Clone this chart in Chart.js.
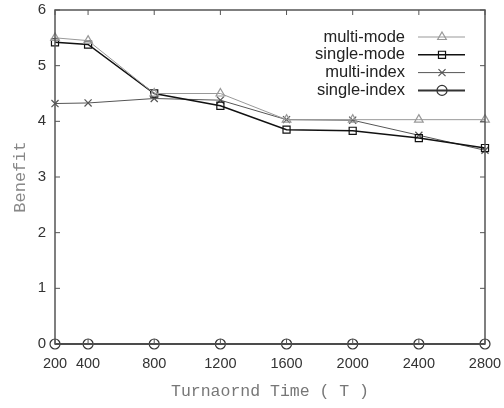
<!DOCTYPE html>
<html>
<head>
<meta charset="utf-8">
<script src="https://cdn.jsdelivr.net/npm/chart.js@4"></script>
<style>
  html, body { margin: 0; padding: 0; background: #fff; }
  #wrap { width: 504px; height: 408px; }
</style>
</head>
<body>
<div id="wrap"><canvas id="benefitChart" width="504" height="408"></canvas></div>
<script>
const turnaround = [200, 400, 800, 1200, 1600, 2000, 2400, 2800];
const multiMode = [5.50, 5.45, 4.50, 4.50, 4.03, 4.03, 4.03, 4.03];
const singleMode = [5.42, 5.38, 4.50, 4.28, 3.85, 3.83, 3.70, 3.52];
const multiIndex = [4.32, 4.33, 4.41, 4.38, 4.03, 4.02, 3.75, 3.48];
const singleIndex = [0, 0, 0, 0, 0, 0, 0, 0];
const yTicks = [0, 1, 2, 3, 4, 5, 6];

const toPoints = vals => vals.map((v, i) => ({ x: turnaround[i], y: v }));

// gnuplot style: frame with inward ticks on all four sides + key inside top right
const gnuplotFrame = {
    id: 'gnuplotFrame',
    afterDraw(chart) {
        const ctx = chart.ctx;
        const a = chart.chartArea;
        const xs = chart.scales.x, ys = chart.scales.y;
        ctx.save();
        ctx.strokeStyle = '#555';
        ctx.lineWidth = 1.5;
        ctx.strokeRect(a.left, a.top, a.right - a.left, a.bottom - a.top);
        ctx.lineWidth = 1;
        ctx.beginPath();
        turnaround.forEach(t => {
            const px = xs.getPixelForValue(t);
            ctx.moveTo(px, a.bottom); ctx.lineTo(px, a.bottom - 5);
            ctx.moveTo(px, a.top); ctx.lineTo(px, a.top + 5);
        });
        yTicks.forEach(t => {
            const py = ys.getPixelForValue(t);
            ctx.moveTo(a.left, py); ctx.lineTo(a.left + 5, py);
            ctx.moveTo(a.right, py); ctx.lineTo(a.right - 5, py);
        });
        ctx.stroke();

        // key
        ctx.font = '16.5px "Liberation Sans", Arial, sans-serif';
        ctx.textAlign = 'right';
        ctx.textBaseline = 'middle';
        chart.data.datasets.forEach((ds, i) => {
            const y = 37 + i * 17.8;
            ctx.fillStyle = '#222';
            ctx.fillText(ds.label, 405, y);
            ctx.strokeStyle = ds.borderColor;
            ctx.lineWidth = ds.borderWidth;
            ctx.beginPath();
            ctx.moveTo(418, y); ctx.lineTo(465, y);
            ctx.stroke();
            ctx.fillStyle = 'rgba(0,0,0,0)';
            ctx.lineWidth = 1.2;
            Chart.helpers.drawPoint(ctx, {
                pointStyle: ds.pointStyle,
                radius: ds.pointRadius,
                borderWidth: 1.2,
                rotation: 0
            }, 442, y);
        });
        ctx.restore();
    }
};

function series(label, vals, color, width, style) {
    return {
        label: label,
        data: toPoints(vals),
        borderColor: color,
        borderWidth: width,
        pointStyle: style,
        pointRadius: 5,
        pointBorderColor: color,
        pointBorderWidth: 1.2,
        pointBackgroundColor: 'rgba(0,0,0,0)',
        tension: 0
    };
}

new Chart(document.getElementById('benefitChart').getContext('2d'), {
    type: 'line',
    data: {
        datasets: [
            series('multi-mode', multiMode, '#999', 1, 'triangle'),
            series('single-mode', singleMode, '#111', 1.5, 'rect'),
            series('multi-index', multiIndex, '#555', 1, 'crossRot'),
            series('single-index', singleIndex, '#333', 2, 'circle')
        ]
    },
    options: {
        responsive: false,
        animation: false,
        clip: false,
        layout: { padding: { left: 0, right: 19, top: 10, bottom: 0 } },
        plugins: { legend: { display: false }, tooltip: { enabled: false } },
        scales: {
            x: {
                type: 'linear',
                min: 200,
                max: 2800,
                afterBuildTicks: scale => { scale.ticks = turnaround.map(v => ({ value: v })); },
                afterFit: scale => {
                    scale.height = 64;
                    scale.paddingLeft = 0;
                    scale.paddingRight = 0;
                },
                grid: { display: false, drawTicks: false },
                border: { display: false },
                ticks: {
                    padding: 11,
                    autoSkip: false,
                    maxRotation: 0,
                    color: '#333',
                    callback: v => String(v),
                    font: { family: '"Liberation Sans", Arial, sans-serif', size: 14.5 }
                },
                title: {
                    display: true,
                    text: 'Turnaornd Time ( T )',
                    color: '#777',
                    padding: { top: 0, bottom: 6 },
                    font: { family: '"Liberation Mono", "DejaVu Sans Mono", monospace', size: 16.5 }
                }
            },
            y: {
                min: 0,
                max: 6,
                afterBuildTicks: scale => { scale.ticks = yTicks.map(v => ({ value: v })); },
                afterFit: scale => {
                    scale.width = 55;
                    scale.paddingTop = 0;
                    scale.paddingBottom = 0;
                },
                grid: { display: false, drawTicks: false },
                border: { display: false },
                ticks: {
                    padding: 9,
                    color: '#333',
                    callback: v => String(v),
                    font: { family: '"Liberation Sans", Arial, sans-serif', size: 15 }
                },
                title: {
                    display: true,
                    text: 'Benefit',
                    color: '#888',
                    padding: { top: 10, bottom: 0 },
                    font: { family: '"Liberation Mono", "DejaVu Sans Mono", monospace', size: 17 }
                }
            }
        }
    },
    plugins: [gnuplotFrame]
});
</script>
</body>
</html>
